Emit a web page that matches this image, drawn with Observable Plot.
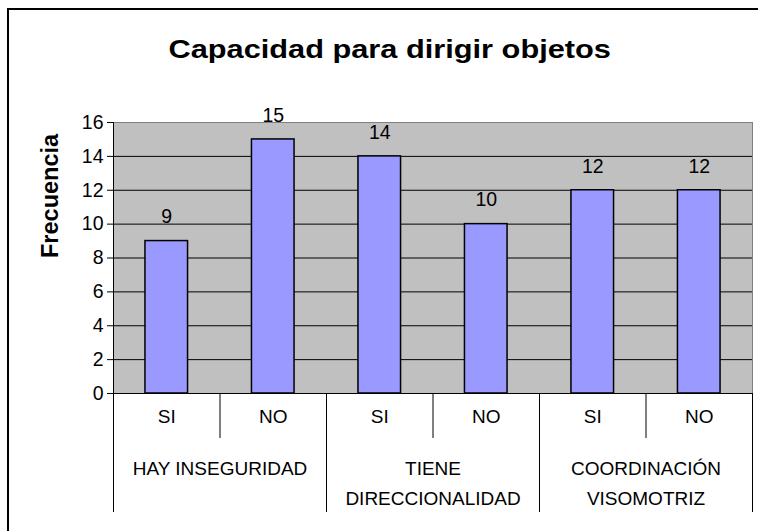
<!DOCTYPE html>
<html>
<head>
<meta charset="utf-8">
<script src="https://cdn.jsdelivr.net/npm/d3@7"></script>
<script src="https://cdn.jsdelivr.net/npm/@observablehq/plot@0.6"></script>
<style>
  html, body { margin: 0; padding: 0; background: #fff; }
  #wrap { position: relative; width: 758px; height: 531px; overflow: hidden; font-family: "Liberation Sans", Arial, sans-serif; }
  #border { position: absolute; left: 7px; top: 8px; width: 900px; height: 700px; border: 2px solid #000; box-sizing: border-box; }
  #title { position: relative; width: 780px; height: 80px; box-sizing: border-box; padding-top: 36px; text-align: center; }
  #title span { display: inline-block; transform: scaleX(1.16); transform-origin: center;
           font: bold 26.5px/26px "Liberation Sans", Arial, sans-serif; color: #000; }
  #chart { position: relative; }
</style>
</head>
<body>
<div id="wrap">
  <div id="border"></div>
  <div id="title"><span>Capacidad para dirigir objetos</span></div>
  <div id="chart"></div>
</div>
<script>
const groups = ["HAY INSEGURIDAD", "TIENE\nDIRECCIONALIDAD", "COORDINACIÓN\nVISOMOTRIZ"];
const answers = ["SI", "NO"];
const values = [9, 15, 14, 10, 12, 12];
const yTicks = [0, 2, 4, 6, 8, 10, 12, 14, 16];
const yLabel = "Frecuencia";

const rows = [];
groups.forEach((g, gi) => answers.forEach((a, ai) => {
  const i = gi * answers.length + ai;
  rows.push({i, group: g, answer: a, value: values[i]});
}));

const chart = Plot.plot({
  width: 758,
  height: 451,
  marginLeft: 113,
  marginRight: 6,
  marginTop: 42,
  marginBottom: 138,
  style: {fontFamily: '"Liberation Sans", Arial, sans-serif', color: "#000", background: "transparent", overflow: "visible"},
  x: {domain: [0, rows.length], axis: null},
  y: {domain: [0, 16], axis: null},
  marks: [
    Plot.frame({fill: "#c0c0c0", stroke: "#808080", strokeWidth: 1}),
    Plot.gridY(yTicks.slice(1, -1), {stroke: "#000", strokeOpacity: 1, strokeWidth: 1}),
    Plot.rectY(rows, {x1: d => d.i + 0.3, x2: d => d.i + 0.7, y: "value", fill: "#9999ff", stroke: "#000", strokeWidth: 1.5}),
    Plot.text(rows, {x: d => d.i + 0.5, y: "value", text: d => String(d.value), dy: -24, fontSize: 19.5}),
    Plot.ruleX([0], {stroke: "#000", strokeWidth: 1}),
    Plot.ruleY([0], {stroke: "#000", strokeWidth: 1}),
    Plot.axisY({ticks: yTicks, tickSize: 6, tickPadding: 4, fontSize: 19.5, label: null, stroke: "#000"}),
    Plot.axisX({ticks: [1, 3, 5], tickSize: 45, tickFormat: () => "", label: null}),
    Plot.axisX({ticks: [0, 2, 4, 6], tickSize: 119, tickFormat: () => "", label: null}),
    Plot.text(rows, {x: d => d.i + 0.5, frameAnchor: "bottom", text: "answer", dy: 29, fontSize: 19}),
    Plot.text(groups, {x: (d, i) => 2 * i + 1, frameAnchor: "bottom", text: d => d, lineAnchor: "top", dy: 60, fontSize: 19, lineHeight: 1.58}),
    Plot.text([yLabel], {frameAnchor: "left", text: d => d, rotate: -90, dx: -63, fontSize: 23.5, fontWeight: "bold"})
  ]
});
document.getElementById("chart").appendChild(chart);
</script>
</body>
</html>
